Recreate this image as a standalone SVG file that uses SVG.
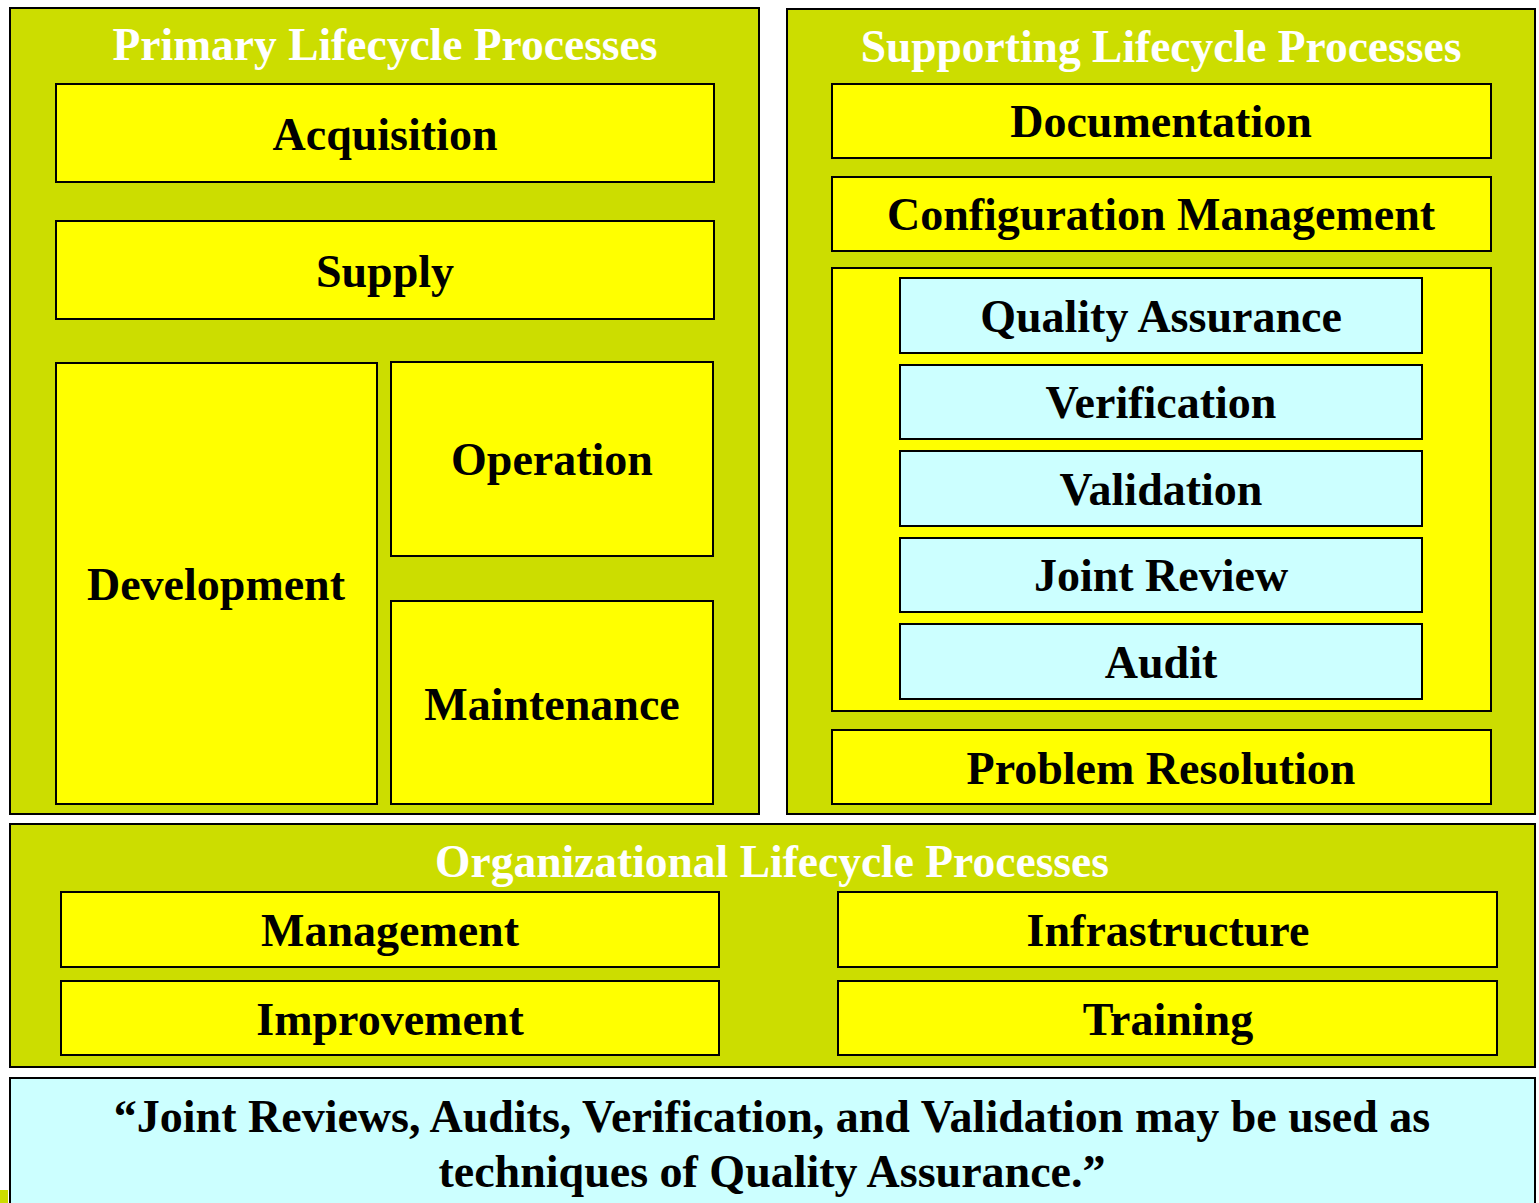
<svg xmlns="http://www.w3.org/2000/svg" width="1539" height="1203" viewBox="0 0 1539 1203">
  <style>
    .panel { fill: #CCDD00; stroke: #000; stroke-width: 2; }
    .box { fill: #FFFF00; stroke: #000; stroke-width: 2; }
    .qbox { fill: #CCFFFF; stroke: #000; stroke-width: 2; }
    text { font-family: "Liberation Serif", "Times New Roman", serif; font-weight: bold; font-size: 46px; text-anchor: middle; fill: #000; }
    .title { fill: #FFFFFF; font-size: 45.5px; }
  </style>
  <rect width="1539" height="1203" fill="#FFFFFF"/>
  <rect x="0" y="1190" width="8" height="13" fill="#CCDD00"/>

  <!-- Primary lifecycle processes -->
  <g id="primary">
    <rect class="panel" x="10" y="8" width="749" height="806"/>
    <text class="title" x="385" y="60">Primary Lifecycle Processes</text>
  </g>
  <g id="acquisition">
    <rect class="box" x="56" y="84" width="658" height="98"/>
    <text x="385" y="150">Acquisition</text>
  </g>
  <g id="supply">
    <rect class="box" x="56" y="221" width="658" height="98"/>
    <text x="385" y="287">Supply</text>
  </g>
  <g id="development">
    <rect class="box" x="56" y="363" width="321" height="441"/>
    <text x="216" y="600">Development</text>
  </g>
  <g id="operation">
    <rect class="box" x="391" y="362" width="322" height="194"/>
    <text x="552" y="475">Operation</text>
  </g>
  <g id="maintenance">
    <rect class="box" x="391" y="601" width="322" height="203"/>
    <text x="552" y="720">Maintenance</text>
  </g>

  <!-- Supporting lifecycle processes -->
  <g id="supporting">
    <rect class="panel" x="787" y="9" width="748" height="805"/>
    <text class="title" x="1161" y="62">Supporting Lifecycle Processes</text>
  </g>
  <g id="documentation">
    <rect class="box" x="832" y="84" width="659" height="74"/>
    <text x="1161" y="137">Documentation</text>
  </g>
  <g id="configuration-management">
    <rect class="box" x="832" y="177" width="659" height="74"/>
    <text x="1161" y="230">Configuration Management</text>
  </g>
  <g id="quality-group">
    <rect class="box" x="832" y="268" width="659" height="443"/>
  </g>
  <g id="quality-assurance">
    <rect class="qbox" x="900" y="278" width="522" height="75"/>
    <text x="1161" y="332">Quality Assurance</text>
  </g>
  <g id="verification">
    <rect class="qbox" x="900" y="365" width="522" height="74"/>
    <text x="1161" y="418">Verification</text>
  </g>
  <g id="validation">
    <rect class="qbox" x="900" y="451" width="522" height="75"/>
    <text x="1161" y="505">Validation</text>
  </g>
  <g id="joint-review">
    <rect class="qbox" x="900" y="538" width="522" height="74"/>
    <text x="1161" y="591">Joint Review</text>
  </g>
  <g id="audit">
    <rect class="qbox" x="900" y="624" width="522" height="75"/>
    <text x="1161" y="678">Audit</text>
  </g>
  <g id="problem-resolution">
    <rect class="box" x="832" y="730" width="659" height="74"/>
    <text x="1161" y="784">Problem Resolution</text>
  </g>

  <!-- Organizational lifecycle processes -->
  <g id="organizational">
    <rect class="panel" x="10" y="824" width="1525" height="243"/>
    <text class="title" x="772" y="877">Organizational Lifecycle Processes</text>
  </g>
  <g id="management">
    <rect class="box" x="61" y="892" width="658" height="75"/>
    <text x="390" y="946">Management</text>
  </g>
  <g id="improvement">
    <rect class="box" x="61" y="981" width="658" height="74"/>
    <text x="390" y="1035">Improvement</text>
  </g>
  <g id="infrastructure">
    <rect class="box" x="838" y="892" width="659" height="75"/>
    <text x="1168" y="946">Infrastructure</text>
  </g>
  <g id="training">
    <rect class="box" x="838" y="981" width="659" height="74"/>
    <text x="1168" y="1035">Training</text>
  </g>

  <!-- Quotation note -->
  <g id="note">
    <rect class="qbox" x="10" y="1078" width="1525" height="140"/>
    <text x="772" y="1132">“Joint Reviews, Audits, Verification, and Validation may be used as</text>
    <text x="772" y="1187">techniques of Quality Assurance.”</text>
  </g>

  <g id="connectors"></g>
</svg>
